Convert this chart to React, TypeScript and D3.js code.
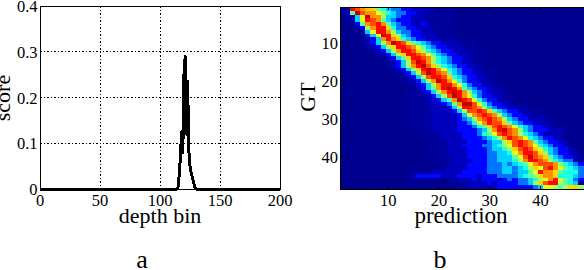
import React from "react";
import * as d3 from "d3";

const depthBins = [0, 114, 115, 116, 117, 118, 119, 120, 121, 122, 123, 124, 125, 126, 127, 128, 129, 130, 200];
const scores = [0, 0, 0.004, 0.03, 0.07, 0.125, 0.08, 0.25, 0.29, 0.12, 0.235, 0.085, 0.05, 0.035, 0.025, 0.015, 0.004, 0, 0];
const xTicksA = [0, 50, 100, 150, 200];
const yTicksA = [0, 0.1, 0.2, 0.3, 0.4];
const ticksB = [10, 20, 30, 40];

const heatRows = [
  "02dcbaa7654433222111110000",
  "027ecbb986544332221111100",
  "01159ebb855433222111110",
  "00259dcb7543332221111100",
  "00037bcdb75433223211110",
  "000138bdda64433222111110",
  "0000159ddb85443322211110",
  "00001359eda8543322211110",
  "00000135bdba65433222111100",
  "000012358bedca7654332221111",
  "0000012358addcb9754332221110",
  "00000012358bddca86543322211100",
  "000000012358addcb97543322211100",
  "0000000012357addcb86543322111",
  "00000000012358cedb86543322111",
  "00000000012358bdeca8654332211",
  "000000000012358adedb96543322111",
  "0000000000112358cedcb7543322111",
  "00000000000112358cddca6543322110",
  "000000000000112358bedb964332211",
  "0000000000000112358bddb964332211",
  "000000000000011235 7bdedb75433221100".replace(" ", ""),
  "00000000000001112358bdedb85432221100",
  "000000000000011112358cedb96433221100",
  "0000000000000111112357bedc96433221100",
  "00000000000011111222347beec96433221100",
  "000000000000111111222358ddcb85433221110",
  "0000000000001111112222358ccdca75433221110",
  "00000000000011111122222359bcdcb85433221110",
  "000000000000111111222223458bcdcb8543322211",
  "0000000000000111112222233469bdcca7543322211",
  "00000000000001111122222333467acdcb96543322111",
  "000000000000001111222223333458bdecb8543332221",
  "00000000000000001111222233346 79cdcb86543222111".replace(" ", ""),
  "00000000000000001111222233334568bdcb96543322",
  "000000000000000001111222233334558acdcb7543322",
  "0000000000000000011112223333445689cdcb96543321",
  "0000000000000000011112222333345568acdca9654332",
  "000000000000000001111222233334455 69bddca8543322".replace(" ", ""),
  "000000000000000001111222233334455579cecba7543321",
  "000000000000000000111122223334455568bddcb8654421",
  "00000000000000000011122223333444545679bcccb865432",
  "00000000000000000001122223333444554568a9cdb9765432",
  "0000000000000011112222223333344455 45579dbba76664".replace(" ", ""),
  "0000000000000023333322233332333444 45678abba66654".replace(" ", ""),
  "0000000000000011111001122232333234 3445689bd97643".replace(" ", ""),
  "0000000000000000000000111222232333 34458acdd8765".replace(" ", ""),
  "0000000000000000000000011222222333 33334599878aa8".replace(" ", ""),
];

const levelValues = [0, 0.015, 0.05, 0.13, 0.24, 0.33, 0.4, 0.467, 0.533, 0.6, 0.667, 0.733, 0.8, 0.867, 0.933, 1];
const jetStops = [0, 0.125, 0.375, 0.625, 0.875, 1];
const jetColors = ["#00008f", "#0000ff", "#00ffff", "#ffff00", "#ff0000", "#800000"];

const FONT = "'Liberation Serif', 'Times New Roman', serif";

export default function App() {
  const xA = d3.scaleLinear().domain([0, 200]).range([40, 280]);
  const yA = d3.scaleLinear().domain([0, 0.4]).range([189, 6]);
  const line = d3
    .line<number>()
    .x((d) => xA(d))
    .y((_, i) => yA(scores[i]));

  const indices = d3.range(1, 49);
  const xB = d3.scaleBand<number>().domain(indices).range([340, 583.5]);
  const yB = d3.scaleBand<number>().domain(indices).range([7, 189]);
  const jet = d3.scaleLinear<string>().domain(jetStops).range(jetColors).interpolate(d3.interpolateRgb);

  return (
    <svg
      width={584}
      height={270}
      style={{ position: "absolute", left: 0, top: 0, background: "#fff" }}
      fontFamily={FONT}
      fill="#000"
    >
      {/* Panel a */}
      <g stroke="#000" strokeWidth={1} strokeDasharray="1.5 2" shapeRendering="crispEdges">
        {xTicksA.slice(1, -1).map((t) => (
          <line key={t} x1={xA(t)} x2={xA(t)} y1={6} y2={189} />
        ))}
        {yTicksA.slice(1, -1).map((t) => (
          <line key={t} x1={40} x2={280} y1={yA(t)} y2={yA(t)} />
        ))}
      </g>
      <rect x={40} y={6} width={240} height={183} fill="none" stroke="#000" strokeWidth={1} shapeRendering="crispEdges" />
      <path d={line(depthBins) ?? ""} fill="none" stroke="#000" strokeWidth={3} strokeLinejoin="round" shapeRendering="crispEdges" />
      {xTicksA.map((t) => (
        <text key={t} x={xA(t)} y={206} fontSize={16.5} textAnchor="middle">
          {t}
        </text>
      ))}
      {yTicksA.map((t) => (
        <text key={t} x={37.5} y={yA(t) + 6} fontSize={16.5} textAnchor="end">
          {t === 0 ? "0" : t.toFixed(1)}
        </text>
      ))}
      <text x={160} y={223} fontSize={22} textAnchor="middle">
        depth bin
      </text>
      <text transform="translate(10,98) rotate(-90)" fontSize={22} textAnchor="middle">
        score
      </text>
      <text x={142} y={268} fontSize={26} textAnchor="middle">
        a
      </text>

      {/* Panel b */}
      <g shapeRendering="crispEdges">
        {heatRows.map((row, r) =>
          indices.map((c) => (
            <rect
              key={`${r}-${c}`}
              x={xB(c)}
              y={yB(r + 1)}
              width={xB.bandwidth() + 0.5}
              height={yB.bandwidth() + 0.5}
              fill={jet(levelValues[parseInt(row.padEnd(48, "0")[c - 1], 16)])}
            />
          ))
        )}
      </g>
      <path d="M340.5,7.5V189.5H583.5M340.5,7.5H583.5" fill="none" stroke="#000" strokeWidth={1} shapeRendering="crispEdges" />
      <g stroke="#000" strokeWidth={1} shapeRendering="crispEdges">
        {ticksB.map((t) => (
          <g key={t}>
            <line x1={(xB(t) ?? 0) + xB.bandwidth() / 2} x2={(xB(t) ?? 0) + xB.bandwidth() / 2} y1={7} y2={10} />
            <line x1={(xB(t) ?? 0) + xB.bandwidth() / 2} x2={(xB(t) ?? 0) + xB.bandwidth() / 2} y1={186} y2={189} />
            <line x1={340} x2={343} y1={(yB(t) ?? 0) + yB.bandwidth() / 2} y2={(yB(t) ?? 0) + yB.bandwidth() / 2} />
          </g>
        ))}
      </g>
      {ticksB.map((t) => (
        <text key={t} x={(xB(t) ?? 0) + xB.bandwidth() / 2} y={206} fontSize={16.5} textAnchor="middle">
          {t}
        </text>
      ))}
      {ticksB.map((t) => (
        <text key={t} x={338} y={(yB(t) ?? 0) + yB.bandwidth() / 2 + 6} fontSize={16.5} textAnchor="end">
          {t}
        </text>
      ))}
      <text x={461} y={223} fontSize={23} textAnchor="middle">
        prediction
      </text>
      <text transform="translate(315,97) rotate(-90)" fontSize={22} textAnchor="middle">
        GT
      </text>
      <text x={440} y={268} fontSize={26} textAnchor="middle">
        b
      </text>
    </svg>
  );
}
